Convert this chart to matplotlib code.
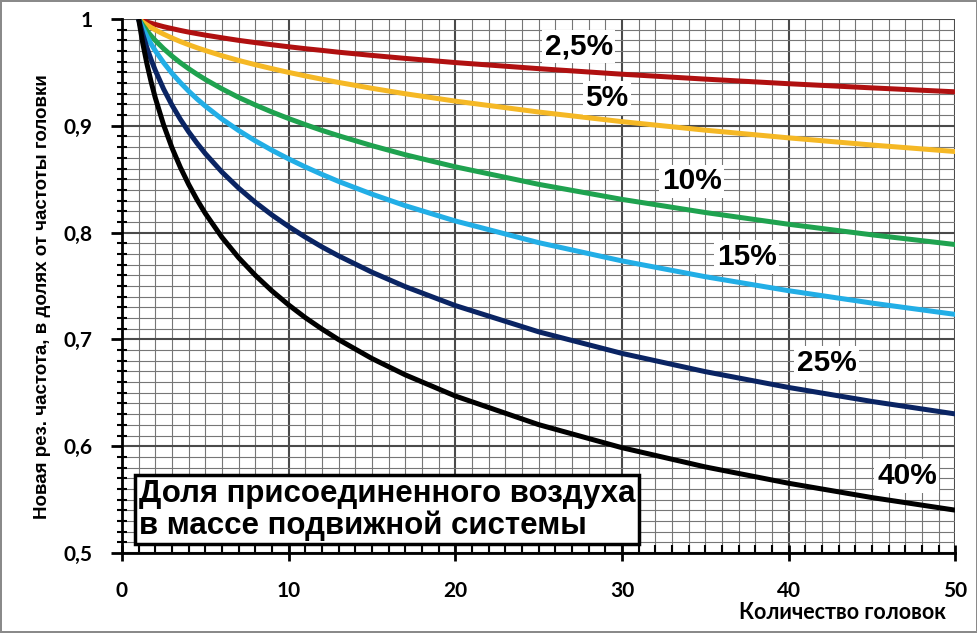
import matplotlib
matplotlib.use("Agg")
import matplotlib.pyplot as plt
from matplotlib.ticker import MultipleLocator, FixedLocator

# Number of heads
heads = [1, 1.25, 1.5, 1.75, 2, 2.5, 3, 3.5, 4, 4.5, 5, 6, 7, 8, 9, 10, 11, 12, 13, 15, 17, 20, 25, 30, 35, 40, 45, 50]

# New resonance frequency (fraction of single-head frequency)
f_2_5 = [1.0, 0.9985, 0.9972, 0.9960, 0.9949, 0.9928, 0.9910, 0.9893, 0.9877, 0.9863, 0.9849, 0.9824, 0.9800, 0.9779,
         0.9759, 0.9740, 0.9722, 0.9706, 0.9689, 0.9659, 0.9631, 0.9592, 0.9535, 0.9483, 0.9437, 0.9394, 0.9355, 0.9318]
f_5 = [1.0, 0.9971, 0.9944, 0.9920, 0.9898, 0.9858, 0.9822, 0.9789, 0.9759, 0.9731, 0.9705, 0.9656, 0.9612, 0.9572,
       0.9535, 0.9500, 0.9467, 0.9436, 0.9406, 0.9351, 0.9300, 0.9231, 0.9129, 0.9039, 0.8959, 0.8887, 0.8820, 0.8759]
f_10 = [1.0, 0.9942, 0.9889, 0.9842, 0.9799, 0.9722, 0.9653, 0.9591, 0.9535, 0.9483, 0.9434, 0.9346, 0.9266, 0.9195,
        0.9129, 0.9068, 0.9011, 0.8957, 0.8907, 0.8814, 0.8729, 0.8616, 0.8452, 0.8311, 0.8188, 0.8078, 0.7979, 0.7888]
f_15 = [1.0, 0.9913, 0.9836, 0.9766, 0.9703, 0.9591, 0.9492, 0.9405, 0.9325, 0.9252, 0.9185, 0.9063, 0.8956, 0.8859,
        0.8771, 0.8690, 0.8615, 0.8545, 0.8479, 0.8360, 0.8252, 0.8109, 0.7906, 0.7735, 0.7587, 0.7456, 0.7340, 0.7234]
f_25 = [1.0, 0.9856, 0.9730, 0.9619, 0.9519, 0.9344, 0.9194, 0.9062, 0.8944, 0.8838, 0.8740, 0.8567, 0.8417, 0.8284,
        0.8165, 0.8057, 0.7958, 0.7866, 0.7782, 0.7629, 0.7494, 0.7317, 0.7071, 0.6869, 0.6698, 0.6550, 0.6419, 0.6302]
f_40 = [1.0, 0.9772, 0.9579, 0.9411, 0.9262, 0.9008, 0.8795, 0.8612, 0.8452, 0.8309, 0.8180, 0.7956, 0.7765, 0.7600,
        0.7454, 0.7323, 0.7204, 0.7097, 0.6998, 0.6821, 0.6668, 0.6470, 0.6202, 0.5986, 0.5806, 0.5653, 0.5519, 0.5401]

series = [f_2_5, f_5, f_10, f_15, f_25, f_40]
series_labels = ["2,5%", "5%", "10%", "15%", "25%", "40%"]
colors = ["#B01010", "#F5B825", "#1FA24F", "#22AEE6", "#0A2463", "#000000"]
label_pos = [(27.4, 0.974), (29.1, 0.926), (34.2, 0.848), (37.5, 0.777), (42.3, 0.678), (47.1, 0.572)]

x_ticks = [0, 10, 20, 30, 40, 50]
y_ticks = [0.5, 0.6, 0.7, 0.8, 0.9, 1.0]
y_ticklabels = ["0,5", "0,6", "0,7", "0,8", "0,9", "1"]

fig = plt.figure(figsize=(9.78, 6.33), dpi=100)
fig.patch.set_edgecolor("#8a8a8a")
fig.patch.set_linewidth(1.5)
ax = fig.add_axes([0.1247, 0.1264, 0.8520, 0.8436])

ax.set_xlim(0, 50)
ax.set_ylim(0.5, 1.0)

ax.xaxis.set_major_locator(FixedLocator(x_ticks))
ax.xaxis.set_minor_locator(MultipleLocator(1))
ax.yaxis.set_major_locator(FixedLocator(y_ticks))
ax.yaxis.set_minor_locator(MultipleLocator(0.01))

ax.grid(which="minor", color="#767676", linewidth=0.8)
ax.grid(which="major", color="#4a4a4a", linewidth=1.5)
ax.set_axisbelow(True)

for s in ["top", "right"]:
    ax.spines[s].set_visible(False)
for s in ["left", "bottom"]:
    ax.spines[s].set_linewidth(2.0)
    ax.spines[s].set_color("black")

for ys, c in zip(series, colors):
    ax.plot(heads, ys, color=c, linewidth=3.6, solid_capstyle="butt",
            solid_joinstyle="round", zorder=3)

for lab, (lx, ly) in zip(series_labels, label_pos):
    ax.text(lx, ly, lab, ha="center", va="center", fontsize=21.5, fontweight="bold",
            family="Liberation Sans", color="black", zorder=5,
            bbox=dict(facecolor="white", edgecolor="none", pad=2))

ax.set_xticklabels([str(v) for v in x_ticks])
ax.set_yticklabels(y_ticklabels)
for t in ax.get_xticklabels() + ax.get_yticklabels():
    t.set_fontfamily("Lato")
    t.set_fontweight("bold")
    t.set_fontsize(15)

ax.tick_params(axis="x", which="major", direction="inout", length=12, width=2, pad=14)
ax.tick_params(axis="x", which="minor", direction="in", length=6, width=1.5)
ax.tick_params(axis="y", which="major", direction="out", length=8, width=2, pad=13)
ax.tick_params(axis="y", which="minor", direction="inout", length=7, width=1.5)

ax.text(1.0, 0.5405, "Доля присоединенного воздуха\nв массе подвижной системы",
        ha="left", va="center", fontsize=22.5, fontweight="bold", family="Liberation Sans",
        linespacing=1.05, zorder=6,
        bbox=dict(facecolor="white", edgecolor="black", linewidth=2.5, boxstyle="square,pad=0.12"))

fig.text(0.861, 0.033, "Количество головок", ha="center", va="center",
         fontsize=15.5, fontweight="bold", family="Lato")
fig.text(0.043, 0.531, "Новая рез. частота, в долях от частоты головки", ha="center", va="center",
         rotation=90, fontsize=13.5, fontweight="bold", family="Liberation Sans")

fig.savefig("out.png", dpi=100, edgecolor=fig.get_edgecolor())
